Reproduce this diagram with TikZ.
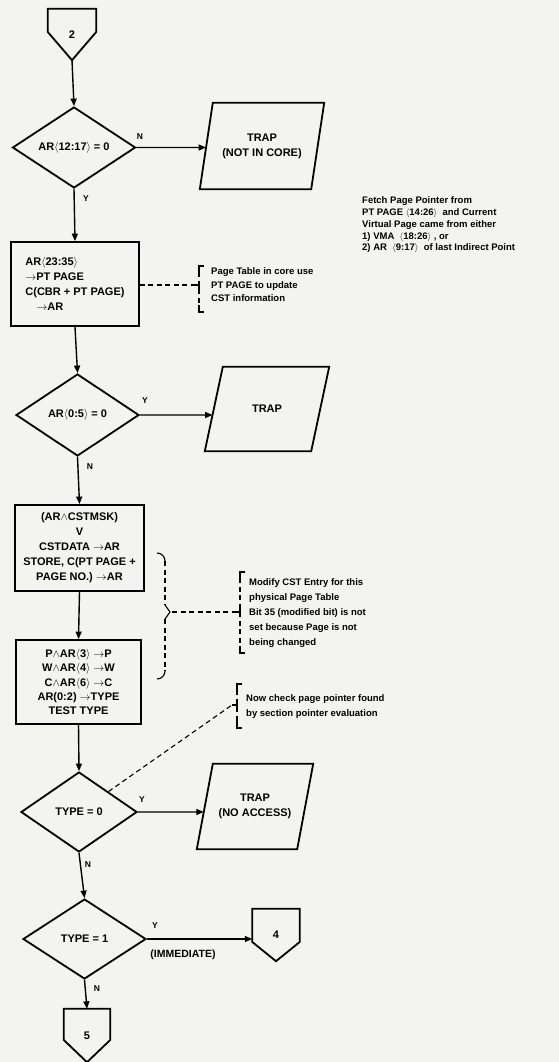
\documentclass[tikz,border=0pt]{standalone}
\usepackage{fontspec}
\setmainfont{Liberation Sans}
\usetikzlibrary{shapes.geometric,arrows.meta,calc}

% note bracket: x, top, tick, bottom
\newcommand\notebrack[4]{%
  \draw[brk, dash pattern=on 5pt off 3.5pt] (#1,#2+6) -- (#1,#4-6);
  \draw[brk] (#1+5,#2) -- (#1,#2) -- (#1,#2+7);
  \draw[brk] (#1,#4-7) -- (#1,#4) -- (#1+5,#4);
  \draw[brk] (#1,#3-4) -- (#1,#3+4);
  \draw[brk] (#1-5,#3) -- (#1,#3);
}
% off-page connector outline around a node: name, drop of the side corners
\newcommand\offpage[2]{%
  \draw[shapeline] (#1.north west) -- (#1.north east) -- ([yshift=#2]#1.east)
    -- (#1.south) -- ([yshift=#2]#1.west) -- cycle;
}
% input/output parallelogram around a node: name, slant
\newcommand\iobox[2]{%
  \draw[shapeline] ([xshift=#2]#1.north west) -- (#1.north east)
    -- ([xshift=-#2]#1.south east) -- (#1.south west) -- cycle;
}

\begin{document}
\begin{tikzpicture}[x=1pt,y=-1pt,
  shapeline/.style={line width=1.8pt, line join=miter},
  flow/.style={font=\bfseries\fontsize{11}{15}\selectfont, align=center},
  decision/.style={diamond, draw, line width=1.8pt, inner sep=0pt, aspect=1.6, flow},
  process/.style={rectangle, draw, line width=1.8pt, inner sep=3pt, flow},
  iotext/.style={flow, draw=none, inner sep=0pt},
  conn/.style={flow, draw=none, inner sep=0pt},
  arr/.style={-{Triangle[length=7.5pt,width=6pt]}, line width=1.4pt},
  note/.style={font=\bfseries\fontsize{9.5}{15}\selectfont, align=left, anchor=west, inner sep=0pt},
  lbl/.style={font=\bfseries\fontsize{8.5}{9}\selectfont, inner sep=0pt},
  notedash/.style={line width=1.1pt, dash pattern=on 5pt off 3.5pt},
  brk/.style={line width=1.1pt},
]
\fill[fill={rgb,255:red,243;green,243;blue,241}] (0,0) rectangle (559,1062);
\useasboundingbox (0,0) rectangle (559,1062);

% ---- entry connector and first test
\node[conn, minimum width=48pt, minimum height=51pt] (c2) at (72,34.5) {2};
\offpage{c2}{2.5pt}
\node[decision, minimum width=123pt, minimum height=81pt] (d1) at (74,147.5)
  {AR$\langle$12:17$\rangle$ = 0};
\node[iotext, minimum width=124pt, minimum height=86pt] (t1) at (262,146)
  {TRAP\\(NOT IN CORE)};
\iobox{t1}{13pt}

\node[note, font=\bfseries\fontsize{9.5}{11.8}\selectfont] (fetch) at (362,225)
  {Fetch Page Pointer from\\
  PT PAGE\ $\langle$14:26$\rangle$\ \ and Current\\
  Virtual Page came from either\\
  1) VMA\ \ $\langle$18:26$\rangle$\ , or\\
  2) AR\ \ $\langle$9:17$\rangle$\ \ of last Indirect Point};

% ---- page table lookup
\node[process, minimum width=128pt, minimum height=84pt, align=left] (b1) at (75,284)
  {AR$\langle$23:35$\rangle$\\$\to$PT PAGE\\C(CBR + PT PAGE)\\\quad$\to$AR};
\node[note, font=\bfseries\fontsize{9.5}{13.5}\selectfont] (n1) at (211,285)
  {Page Table in core use\\PT PAGE to update\\CST information};
\coordinate (n1t) at (194,285);
\notebrack{199}{266}{285}{312}

\node[decision, minimum width=123pt, minimum height=82pt] (d2) at (77.5,415)
  {AR$\langle$0:5$\rangle$ = 0};
\node[iotext, minimum width=124pt, minimum height=84pt] (t2) at (267,409) {TRAP};
\iobox{t2}{18pt}

% ---- CST update and pointer decode
\node[process, minimum width=129pt, minimum height=86pt] (b2) at (79.5,548)
  {(AR$\wedge$CSTMSK)\\V\\CSTDATA $\to$AR\\STORE, C(PT PAGE +\\PAGE NO.) $\to$AR};
\node[process, minimum width=125pt, minimum height=84pt, font=\bfseries\fontsize{11}{14.3}\selectfont]
  (b3) at (78.5,682)
  {P$\wedge$AR$\langle$3$\rangle$ $\to$P\\W$\wedge$AR$\langle$4$\rangle$ $\to$W\\
   C$\wedge$AR$\langle$6$\rangle$ $\to$C\\AR(0:2) $\to$TYPE\\TEST TYPE};

% brace grouping the two boxes
\draw[brk] (157,553) to[out=0,in=90] (165,561);
\draw[notedash] (165,561) -- (165,605);
\draw[brk] (165,605) -- (170,612) -- (165,619);
\draw[notedash] (165,619) -- (165,671);
\draw[brk] (165,671) to[out=-90,in=0] (157,679);
\coordinate (brtip) at (172,612);

\node[note] (n2) at (249,613) {Modify CST Entry for this\\physical Page Table\\
  Bit 35 (modified bit) is not\\set because Page is not\\being changed};
\coordinate (n2t) at (235,612);
\notebrack{240}{572}{612}{653}

\node[note] (n3) at (246,707) {Now check page pointer found\\by section pointer evaluation};
\coordinate (n3t) at (232,705);
\notebrack{237}{684}{705}{728}

% ---- type tests
\node[decision, minimum width=116pt, minimum height=80pt] (d3) at (79,812) {TYPE = 0};
\node[iotext, minimum width=116pt, minimum height=85pt] (t3) at (255,806.5)
  {TRAP\\(NO ACCESS)};
\iobox{t3}{16pt}

\node[decision, minimum width=123pt, minimum height=80pt] (d4) at (84.5,939) {TYPE = 1};
\node[conn, minimum width=47pt, minimum height=52pt] (c4) at (276,935) {4};
\offpage{c4}{-7pt}
\node[conn, minimum width=46pt, minimum height=53pt] (c5) at (87,1035.5) {5};
\offpage{c5}{-4.5pt}

% ---- flow connectors
\draw[arr] (c2.south) -- (d1.north);
\draw[arr] (d1.east) -- (intersection cs: first line={(d1.east)--([xshift=10pt]d1.east)},
  second line={(t1.south west)--([xshift=13pt]t1.north west)});
\draw[arr] (d1.south) -- (b1.north);
\draw[arr] (b1.south) -- (d2.north);
\draw[arr] (d2.east) -- (intersection cs: first line={(d2.east)--([xshift=10pt]d2.east)},
  second line={(t2.south west)--([xshift=18pt]t2.north west)});
\draw[arr] (d2.south) -- (b2.north);
\draw[arr] (b2.south) -- (b3.north);
\draw[arr] (b3.south) -- (d3.north);
\draw[arr] (d3.east) -- (intersection cs: first line={(d3.east)--([xshift=10pt]d3.east)},
  second line={(t3.south west)--([xshift=16pt]t3.north west)});
\draw[arr] (d3.south) -- (d4.north);
\draw[arr] (d4.east) -- (d4.east -| c4.west);
\draw[arr] (d4.south) -- (c5.north);

% ---- dashed annotation links
\draw[notedash] (b1.east |- n1t) -- (n1t);
\draw[notedash] (brtip) -- (n2t);
\draw[notedash] ($(d3.north)!0.5!(d3.east)$) -- (n3t);

% ---- branch labels
\node[lbl] at (140,137) {N};
\node[lbl] at (86,199) {Y};
\node[lbl] at (145,401) {Y};
\node[lbl] at (90,467) {N};
\node[lbl] at (142,800) {Y};
\node[lbl] at (88,865) {N};
\node[lbl] at (155,926) {Y};
\node[lbl] at (97,989) {N};
\node[lbl, font=\bfseries\fontsize{10.5}{11}\selectfont] (imm) at (183,955) {(IMMEDIATE)};
\end{tikzpicture}
\end{document}
